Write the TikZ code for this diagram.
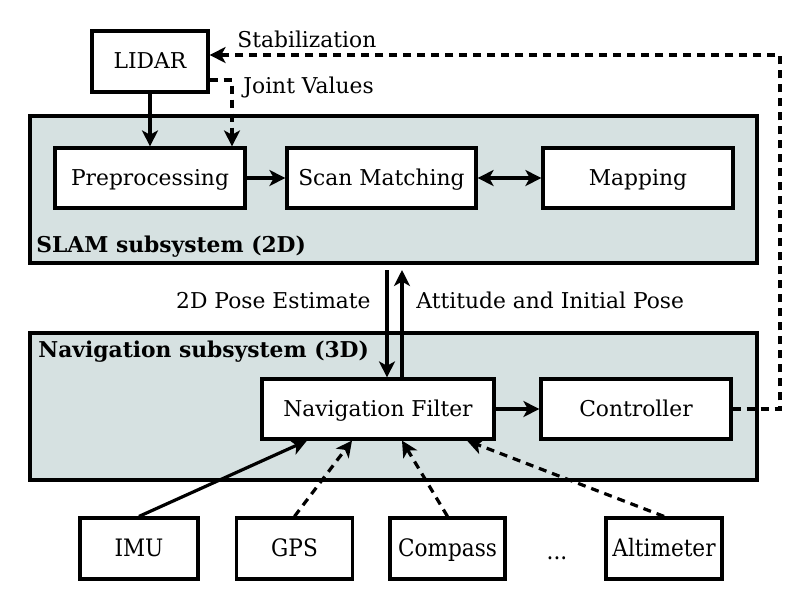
\documentclass[tikz,border=0pt]{standalone}
\usepackage{fontspec}
\setmainfont{DejaVu Serif}
\newfontfamily\condfont[FakeStretch=0.9]{DejaVu Serif}
\usetikzlibrary{arrows.meta}
\definecolor{subsys}{RGB}{214,225,225}
\tikzset{
  base/.style={font=\fontsize{10.9}{13}\selectfont},
  box/.style={base, draw, line width=1.6pt, fill=white, inner sep=0pt, text height=0.9em, text depth=0.2em},
  sensor/.style={box, font=\fontsize{12}{14}\condfont, minimum width=58pt, minimum height=30.5pt, text height=0.95em, text depth=0.15em},
  container/.style={draw, line width=1.6pt, fill=subsys, inner sep=0pt, minimum width=363.5pt, minimum height=73.5pt},
  lbl/.style={base, inner sep=0pt},
  conn/.style={line width=1.6pt, -{Stealth[length=8pt, width=8pt, inset=2.2pt]}},
  bconn/.style={line width=1.6pt, {Stealth[length=8pt, width=8pt, inset=2.2pt]}-{Stealth[length=8pt, width=8pt, inset=2.2pt]}},
  dconn/.style={conn, dash pattern=on 4pt off 3pt},
}
\begin{document}
\begin{tikzpicture}[x=0.5pt, y=-0.5pt]
\useasboundingbox (0,0) rectangle (811,596);
% containers
\node[container] (slam) at (393.5,189.5) {};
\node[container] (nav) at (393.5,406.5) {};
\node[lbl, anchor=base west, font=\fontsize{10.9}{13}\selectfont\bfseries] (slamlbl) at (36,252) {SLAM subsystem (2D)};
\node[lbl, anchor=base west, font=\fontsize{10.9}{13}\selectfont\bfseries] (navlbl) at (38,357) {Navigation subsystem (3D)};
% boxes
\node[box, minimum width=58pt, minimum height=30.5pt] (lidar) at (150,61.5) {LIDAR};
\node[box, minimum width=95pt, minimum height=30pt] (pre) at (150,178) {Preprocessing};
\node[box, minimum width=94.5pt, minimum height=30pt] (scan) at (381.5,178) {Scan Matching};
\node[box, minimum width=95pt, minimum height=30pt] (map) at (638,178) {Mapping};
\node[box, minimum width=116pt, minimum height=30pt] (nf) at (378,409) {Navigation Filter};
\node[box, minimum width=95pt, minimum height=30pt] (ctrl) at (636,409) {Controller};
\node[sensor, minimum width=59pt] (imu) at (139,548.5) {IMU};
\node[sensor] (gps) at (294.5,548.5) {GPS};
\node[sensor, minimum width=57.5pt] (compass) at (447.5,548.5) {Compass};
\node[sensor] (alt) at (664,548.5) {Altimeter};
\node[lbl, anchor=base, font=\fontsize{12}{14}\condfont] (dots) at (557,559) {...};
% helper coordinates
\coordinate (jvy) at (0,80);
\coordinate (jvx) at (232,0);
\coordinate (stab) at (780,55);
\coordinate (pd) at (387,270);
\coordinate (pu) at (402,270);
\coordinate (imut) at (307,0);
\coordinate (gpst) at (352,0);
\coordinate (compt) at (402,0);
\coordinate (altt) at (467,0);
% connectors
\draw[conn] (lidar.south) -- (pre.north);
\draw[dconn] (lidar.east |- jvy) -| (jvx |- pre.north);
\node[lbl, anchor=base west] (jvlbl) at (243,93) {Joint Values};
\draw[dconn] (ctrl.east) -| (stab) -- (lidar.east |- stab);
\node[lbl, anchor=base west] (stablbl) at (237,47) {Stabilization};
\draw[conn] (pre) -- (scan);
\draw[bconn] (scan) -- (map);
\draw[conn] (pd) -- (pd |- nf.north);
\draw[conn] (pu |- nf.north) -- (pu);
\node[lbl, anchor=base east] (pelbl) at (371,308) {2D Pose Estimate};
\node[lbl, anchor=base west] (ailbl) at (416,308) {Attitude and Initial Pose};
\draw[conn] (nf) -- (ctrl);
\draw[conn] (imu.north) -- (imut |- nf.south);
\draw[dconn] (gps.north) -- (gpst |- nf.south);
\draw[dconn] (compass.north) -- (compt |- nf.south);
\draw[dconn] (alt.north) -- (altt |- nf.south);
\end{tikzpicture}
\end{document}
